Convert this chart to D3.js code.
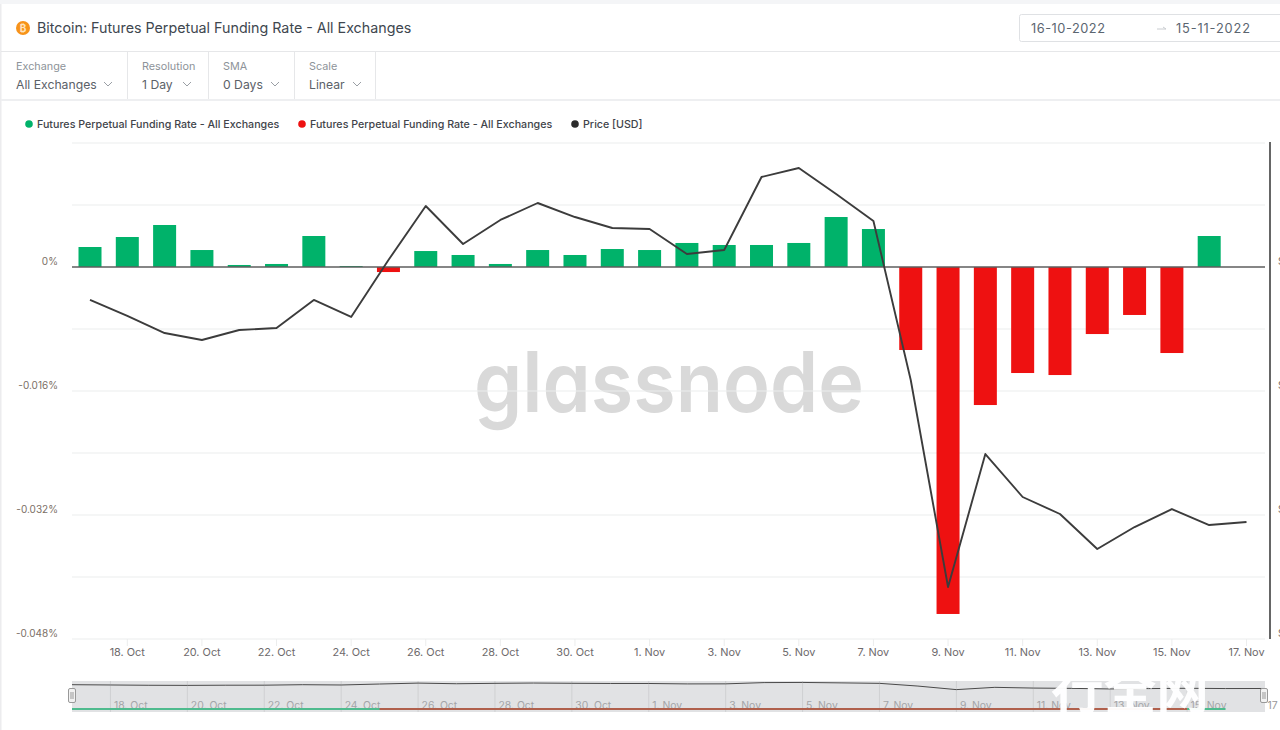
<!DOCTYPE html>
<html><head><meta charset="utf-8">
<script src="https://cdn.jsdelivr.net/npm/d3@7/dist/d3.min.js"></script>
<style>
html,body{margin:0;padding:0;background:#fff;overflow:hidden}
svg{display:block}
text{font-family:Inter,"Noto Sans",sans-serif}
</style></head><body><svg id="c" width="1280" height="730"></svg>
<script>
const startDate = "2022-10-17";
const fundingRates = [0.00258,0.00387,0.00542,0.00219,0.00026,0.00039,0.004,0.00013,-0.00065,0.00206,0.00155,0.00039,0.00219,0.00155,0.00232,0.00219,0.0031,0.00284,0.00284,0.0031,0.00645,0.0049,-0.01071,-0.04477,-0.01781,-0.01368,-0.01394,-0.00865,-0.00619,-0.0111,0.004];
const prices = [19599,19393,19173,19083,19212,19238,19599,19380,20114,20810,20320,20630,20849,20668,20527,20514,20192,20243,21184,21300,20965,20617,18568,15900,17614,17060,16841,16390,16673,16905,16699,16738];
const rateTicks = [0,-0.016,-0.032,-0.048];
const gridRates = [0.016,0.008,0,-0.008,-0.016,-0.024,-0.032,-0.04,-0.048];
const priceTicks = ["$","$","$","$"];
const xTickDates = ["2022-10-18","2022-10-20","2022-10-22","2022-10-24","2022-10-26","2022-10-28","2022-10-30","2022-11-01","2022-11-03","2022-11-05","2022-11-07","2022-11-09","2022-11-11","2022-11-13","2022-11-15","2022-11-17"];
const legendItems = [["Futures Perpetual Funding Rate - All Exchanges","#00b26a"],["Futures Perpetual Funding Rate - All Exchanges","#ee1111"],["Price [USD]","#2b2b2b"]];
const controls = [["Exchange","All Exchanges"],["Resolution","1 Day"],["SMA","0 Days"],["Scale","Linear"]];

const svg = d3.select("#c");
const d0 = d3.isoParse(startDate+"T00:00:00Z");
const dates = prices.map((_,i)=>new Date(+d0+i*864e5));
const xd = s=>d3.isoParse(s+"T00:00:00Z");
const fmtD = d3.utcFormat("%-d. %b");
const x = d3.scaleUtc().domain([dates[0],dates[31]]).range([90,1246.5]);
const y = d3.scaleLinear().domain([0.016,-0.048]).range([143,639]);
const yP = d3.scaleLinear().domain([15230,21635]).range([639,142]);
const nx = d3.scaleUtc().domain([dates[0],dates[31]]).range([72,1264]);
const nyP = d3.scaleLinear().domain([15230,21635]).range([690.5,682]);

// page frame
svg.append("rect").attr("width",1280).attr("height",4).attr("fill","#f4f5f7");
svg.append("rect").attr("y",4).attr("width",1.5).attr("height",726).attr("fill","#ececee");
const hl=(yy,c,w)=>svg.append("rect").attr("x",1).attr("y",yy).attr("width",1279).attr("height",w).attr("fill",c);
hl(51,"#e6e7e9",1); hl(99,"#eeeff1",2);

// title
svg.append("circle").attr("cx",23).attr("cy",28).attr("r",7).attr("fill","#f7931a");
svg.append("text").attr("x",23).attr("y",31.5).attr("text-anchor","middle").attr("font-size",10).attr("font-weight",700).attr("fill","#ffe3bf").text("₿");
svg.append("text").attr("x",37).attr("y",33).attr("font-size",14.27).attr("fill","#40474f").text("Bitcoin: Futures Perpetual Funding Rate - All Exchanges");

// date picker
svg.append("rect").attr("x",1019.5).attr("y",14.5).attr("width",270).attr("height",27).attr("rx",2).attr("fill","#fff").attr("stroke","#dfe1e4");
[[1031,"16-10-2022"],[1176,"15-11-2022"]].forEach(t=>svg.append("text").attr("x",t[0]).attr("y",33).attr("font-size",12.8).attr("textLength",74).attr("fill","#5b6570").text(t[1]));
svg.append("path").attr("d","M1157 29H1166M1163 27L1166 29").attr("fill","none").attr("stroke","#c9ccd0");

// controls
const cx=[16,142,223,309], sep=[127,208,294,375], chev=[108,187,275,357];
controls.forEach((c,i)=>{
  svg.append("text").attr("x",cx[i]).attr("y",70).attr("font-size",10.8).attr("fill","#8d9399").text(c[0]);
  svg.append("text").attr("x",cx[i]).attr("y",88.5).attr("font-size",12.2).attr("fill","#5b6168").text(c[1]);
  svg.append("path").attr("d",`M${chev[i]-4} 82L${chev[i]} 86L${chev[i]+4} 82`).attr("fill","none").attr("stroke","#9a9fa5");
  svg.append("rect").attr("x",sep[i]).attr("y",52).attr("width",1).attr("height",47).attr("fill","#e6e7e9");
});

// legend
const lx=[[29,37],[302,310],[575,583]];
legendItems.forEach((l,i)=>{
  svg.append("circle").attr("cx",lx[i][0]).attr("cy",124).attr("r",3.8).attr("fill",l[1]);
  svg.append("text").attr("x",lx[i][1]).attr("y",128).attr("font-size",10.7).attr("font-weight",500).attr("fill","#3f444a").text(l[0]);
});

// watermark
svg.append("text").attr("x",474).attr("y",412).attr("font-size",84).attr("font-weight",600).attr("textLength",390).attr("lengthAdjust","spacingAndGlyphs")
  .attr("fill","#d9d9d9").style("font-family","Inter, sans-serif").style("font-feature-settings","'cv11' 1").text("glassnode");

// grid
svg.append("g").selectAll("line").data(gridRates).join("line")
  .attr("x1",72).attr("x2",1265).attr("y1",d=>y(d)).attr("y2",d=>y(d))
  .attr("stroke",d=>d===0?"none":"#eceded").attr("stroke-width",1.2);

// y labels
svg.append("g").selectAll("text").data(rateTicks).join("text")
  .attr("x",58).attr("y",d=>y(d)-1.7).attr("text-anchor","end").attr("font-size",10).attr("fill","#7b6f66")
  .text(d=>d===0?"0%":d3.format(".3f")(d).replace("\u2212","-")+"%");

// x ticks
svg.append("g").selectAll("line").data(xTickDates).join("line")
  .attr("x1",d=>x(xd(d))).attr("x2",d=>x(xd(d))).attr("y1",639).attr("y2",646).attr("stroke","#eceded");
svg.append("g").selectAll("text").data(xTickDates).join("text")
  .attr("x",d=>x(xd(d))).attr("y",656).attr("text-anchor","middle").attr("font-size",10.9).attr("fill","#6e6a6c")
  .text(d=>fmtD(xd(d)));

// bars
const bw=23;
svg.append("g").selectAll("rect").data(fundingRates).join("rect")
  .attr("x",(d,i)=>x(dates[i])-bw/2).attr("width",bw)
  .attr("y",d=>d>=0?y(d):y(0)).attr("height",d=>Math.abs(y(d)-y(0)))
  .attr("fill",d=>d>=0?"#00b26a":"#ee1111");

// zero line
svg.append("line").attr("x1",72).attr("x2",1265).attr("y1",y(0)).attr("y2",y(0)).attr("stroke","#5e5e5e").attr("stroke-width",1.5);

// price line
const line=d3.line().x((d,i)=>x(dates[i])).y(d=>yP(d));
svg.append("path").datum(prices).attr("d",line).attr("fill","none").attr("stroke","#3c3c3c").attr("stroke-width",1.9).attr("stroke-linejoin","round");

// right axis
svg.append("line").attr("x1",1270).attr("x2",1270).attr("y1",142).attr("y2",639).attr("stroke","#3f3f3f").attr("stroke-width",1.6);
svg.append("g").selectAll("text").data(priceTicks).join("text")
  .attr("x",1278).attr("y",(d,i)=>y(rateTicks[i])-1.7).attr("font-size",10).attr("fill","#7b6f66").text(d=>d);

// navigator
svg.append("rect").attr("x",72).attr("y",681).attr("width",1193).attr("height",31).attr("fill","#e1e2e4");
const nt=xTickDates;
svg.append("g").selectAll("line").data(nt.slice(0,-1)).join("line")
  .attr("x1",d=>nx(xd(d))).attr("x2",d=>nx(xd(d))).attr("y1",681).attr("y2",712).attr("stroke","#cfd0d2");
svg.append("g").selectAll("text").data(nt).join("text")
  .attr("x",d=>nx(xd(d))+3.5).attr("y",708.5).attr("font-size",10.4).attr("fill",(d,i)=>i===nt.length-1?"#999":"#a4a5a8")
  .text((d,i)=>i===nt.length-1?fmtD(xd(d)).slice(0,2):fmtD(xd(d)));
const firstNeg=fundingRates.findIndex(d=>d<0);
const lastNeg=fundingRates.length-1-[...fundingRates].reverse().findIndex(d=>d<0);
svg.append("line").attr("x1",nx(dates[0])).attr("x2",nx(dates[fundingRates.length-1])).attr("y1",709).attr("y2",709).attr("stroke","#4fbb8e").attr("stroke-width",2);
svg.append("line").attr("x1",nx(dates[firstNeg])).attr("x2",nx(dates[lastNeg])).attr("y1",709).attr("y2",709).attr("stroke","#b0604c").attr("stroke-width",2);
const nline=d3.line().x((d,i)=>nx(dates[i])).y(d=>nyP(d));
svg.append("path").datum(prices).attr("d",nline).attr("fill","none").attr("stroke","#4a4a4a").attr("stroke-width",1);
[72,1264].forEach(h=>svg.append("rect").attr("x",h-3.5).attr("y",688.5).attr("width",7).attr("height",14).attr("rx",1.5).attr("fill","#f2f2f2").attr("stroke","#999"));
[72,1264].forEach(h=>svg.append("path").attr("d",`M${h-1} 692V699M${h+1} 692V699`).attr("stroke","#999"));

// overlaid site mark
svg.append("text").attr("x",1051).attr("y",709).attr("font-size",51).attr("fill","#fff").attr("fill-opacity",0.97).attr("textLength",158).attr("lengthAdjust","spacingAndGlyphs").style("font-family","'Noto Sans CJK SC'").attr("font-weight",700).text("行全网");
</script></body></html>
